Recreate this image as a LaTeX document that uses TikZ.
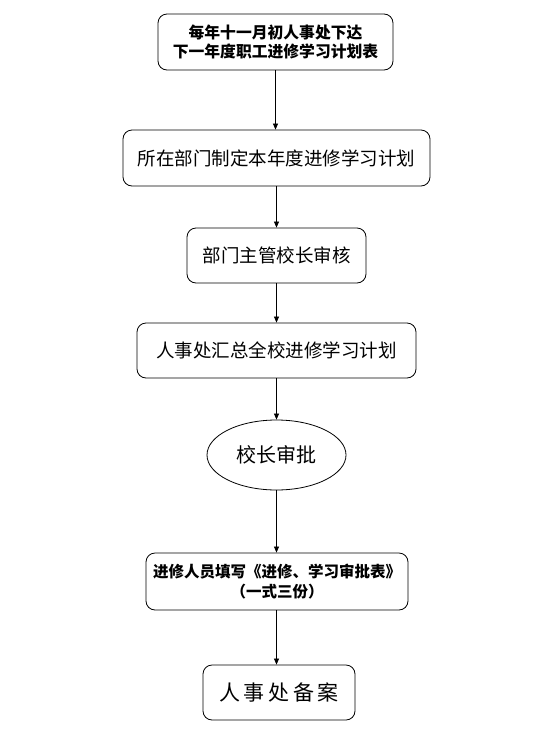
\documentclass[tikz,border=0pt]{standalone}
\usepackage{fontspec}
\newfontfamily\cjk{Noto Sans CJK SC}
\usetikzlibrary{arrows.meta,shapes.geometric}
\begin{document}
\begin{tikzpicture}[x=1pt,y=-1pt,
  box/.style={draw,rounded corners=9pt,line width=0.8pt,align=center,font=\cjk},
  arr/.style={-{Triangle[length=6pt,width=5pt]},line width=0.7pt}]
\useasboundingbox (0,0) rectangle (534,742);
\node[box,minimum width=235pt,minimum height=56pt,font=\cjk\bfseries\fontsize{15.8}{19}\selectfont] (a) at (275.5,42) {每年十一月初人事处下达\\下一年度职工进修学习计划表};
\node[box,minimum width=307pt,minimum height=56pt,font=\cjk\fontsize{18.5}{22}\selectfont] (b) at (276.5,158) {所在部门制定本年度进修学习计划};
\node[box,minimum width=179pt,minimum height=55pt,font=\cjk\fontsize{18.5}{22}\selectfont] (c) at (276.5,255.5) {部门主管校长审核};
\node[box,minimum width=279pt,minimum height=55pt,font=\cjk\fontsize{18.5}{22}\selectfont] (d) at (276.5,350.5) {人事处汇总全校进修学习计划};
\node[draw,ellipse,line width=0.8pt,minimum width=139pt,minimum height=70pt,inner sep=0pt,font=\cjk\fontsize{20}{24}\selectfont] (e) at (276.5,455) {校长审批};
\node[box,minimum width=262pt,minimum height=57pt,font=\cjk\bfseries\fontsize{15.5}{19.5}\selectfont] (f) at (277,581.5) {进修人员填写《进修、学习审批表》\\（一式三份）};
\node[box,minimum width=152pt,minimum height=55pt,font=\cjk\fontsize{21}{24}\selectfont] (g) at (279,692.5) {人\,事\,处\,备\,案};
\draw[arr] (a) -- (a|-b.north);
\draw[arr] (b) -- (b|-c.north);
\draw[arr] (c) -- (c|-d.north);
\draw[arr] (d) -- (d|-e.north);
\draw[arr] (e) -- (e|-f.north);
\draw[arr] (f.south-|e) -- (g.north-|e);
\end{tikzpicture}
\end{document}
